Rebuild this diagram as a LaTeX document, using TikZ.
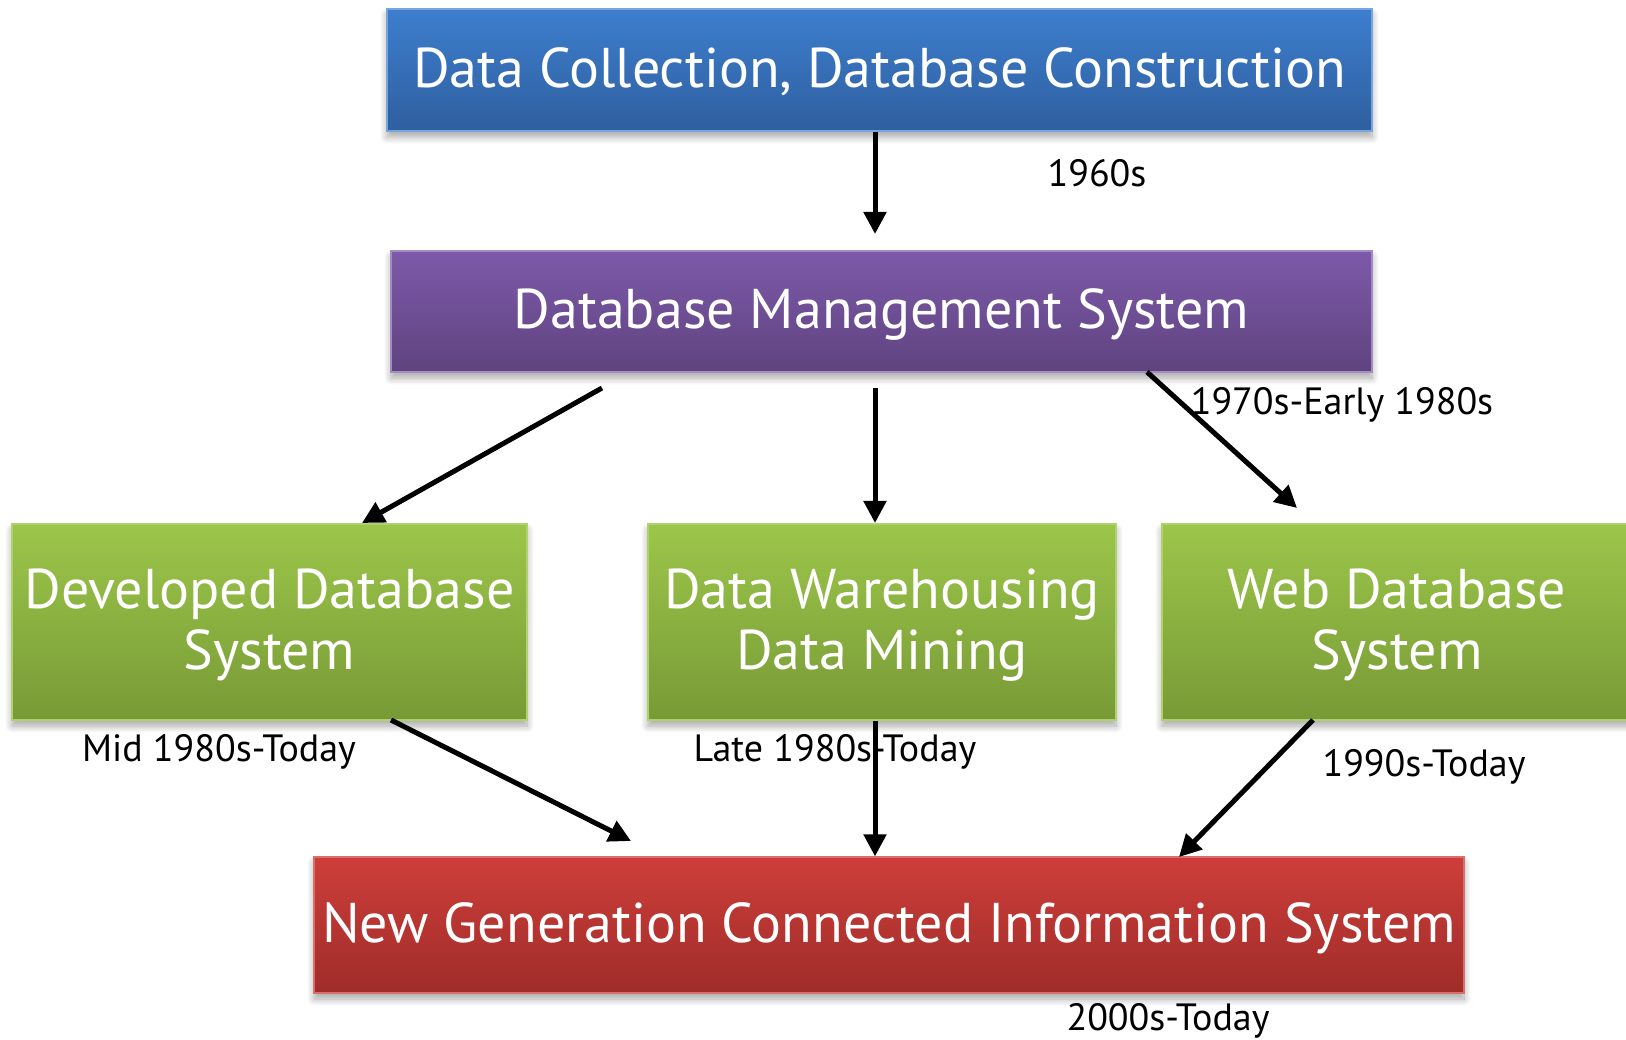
\documentclass[tikz,border=0pt]{standalone}
\usepackage{fontspec}
\setmainfont{PT Sans}
\usetikzlibrary{arrows.meta,shadows.blur,positioning}

\definecolor{blueTop}{HTML}{3D7ECE}
\definecolor{blueBot}{HTML}{2F5F9F}
\definecolor{purpTop}{HTML}{7D5AAA}
\definecolor{purpBot}{HTML}{5F437F}
\definecolor{grnTop}{HTML}{9CC64A}
\definecolor{grnBot}{HTML}{789A36}
\definecolor{redTop}{HTML}{CE3E3A}
\definecolor{redBot}{HTML}{9F2C29}

% box text sits a little below the geometric centre
\newcommand\boxtext[1]{\raisebox{-5pt}[\height][\depth]{\begin{tabular}{@{}c@{}}#1\end{tabular}}}

\tikzset{
  box/.style={rectangle, inner sep=0pt, align=center, text=white,
    font=\fontsize{56}{61}\selectfont,
    blur shadow={shadow xshift=0pt, shadow yshift=-6pt,
      shadow blur radius=7pt, shadow blur steps=10, shadow opacity=35}},
  bluebox/.style={box, top color=blueTop, bottom color=blueBot, draw=blueTop!70!white, line width=1.2pt},
  purpbox/.style={box, top color=purpTop, bottom color=purpBot, draw=purpTop!70!white, line width=1.2pt},
  grnbox/.style={box, top color=grnTop, bottom color=grnBot, draw=grnTop!80!white, line width=1.2pt},
  redbox/.style={box, top color=redTop, bottom color=redBot, draw=redTop!75!white, line width=1.2pt},
  era/.style={font=\fontsize{38}{42}\selectfont, text=black, inner sep=0pt},
  flow/.style={line width=5pt, -{Triangle[length=22pt,width=22pt]}}
}

\begin{document}
\begin{tikzpicture}[x=1pt,y=-1pt]
\useasboundingbox (0,0) rectangle (1626,1040);

% stages of database evolution
\node[bluebox, minimum width=985, minimum height=122] (collect) at (879.5,70) {\boxtext{Data Collection, Database Construction}};
\node[purpbox, minimum width=981, minimum height=121] (dbms) at (881.5,311.5) {\boxtext{Database Management System}};
\node[grnbox, minimum width=515, minimum height=196] (devdb) at (269.5,622) {\boxtext{Developed Database\\System}};
\node[grnbox, minimum width=468, minimum height=196] (dwdm) at (882,622) {\boxtext{Data Warehousing\\Data Mining}};
\node[grnbox, minimum width=470, minimum height=196] (webdb) at (1397,622) {\boxtext{Web Database\\System}};
\node[redbox, minimum width=1150, minimum height=136] (nextgen) at (889,925) {\boxtext{New Generation Connected Information System}};

% free ends of the connectors
\coordinate (c1) at (875,234);
\coordinate (d1) at (602,388);
\coordinate (l1) at (362,523);
\coordinate (d2) at (875,388);
\coordinate (m1) at (875,523);
\coordinate (d3) at (1147,372);
\coordinate (r1) at (1297,508);
\coordinate (u1) at (391,720);
\coordinate (n1) at (631,841);
\coordinate (u3) at (1313,720);
\coordinate (n3) at (1179,857);

\draw[flow] (collect.south -| c1) -- (c1);
\draw[flow] (d1) -- (l1);
\draw[flow] (d2) -- (m1);
\draw[flow] (d3) -- (r1);
\draw[flow] (u1) -- (n1);
\draw[flow] (dwdm.south -| d2) -- (nextgen.north -| d2);
\draw[flow] (u3) -- (n3);

% period labels
\node[era] (t1) at (1097,173) {1960s};
\node[era] (t2) at (1342,405) {1970s-Early 1980s};
\node[era] (t3) at (219,752) {Mid 1980s-Today};
\node[era] (t4) at (835,752) {Late 1980s-Today};
\node[era] (t5) at (1424,767) {1990s-Today};
\node[era] (t6) at (1168,1021) {2000s-Today};
\end{tikzpicture}
\end{document}
